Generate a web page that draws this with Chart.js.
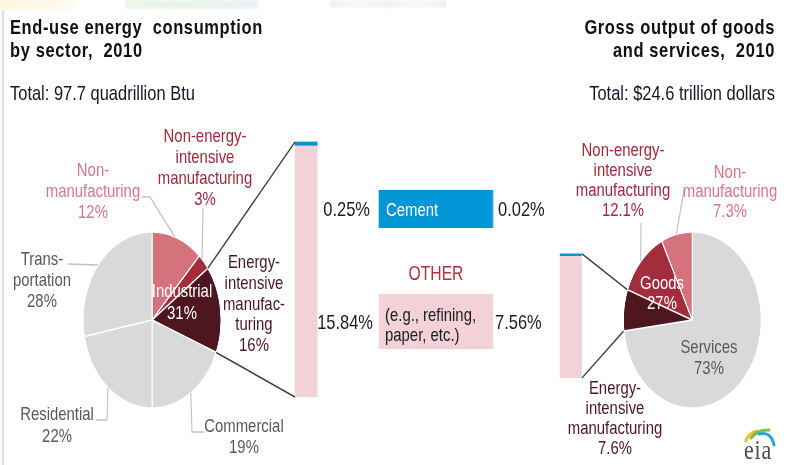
<!DOCTYPE html>
<html><head><meta charset="utf-8">
<title>End-use energy consumption and gross output by sector, 2010</title>
<script src="https://cdn.jsdelivr.net/npm/chart.js@4.4.1/dist/chart.umd.min.js"></script>
<style>
html,body{margin:0;padding:0;background:#fff;overflow:hidden;width:787px;height:465px;}
#stage{position:absolute;left:0;top:0;width:1004px;height:465px;transform:scaleX(0.784);transform-origin:0 0;font-family:"Liberation Sans",Arial,Helvetica,sans-serif;}
.abs{position:absolute;}
.lbl{position:absolute;white-space:pre;}
</style></head><body><div id="stage"></div>
<script>
// ---------------- data ----------------
const leftCategories = ['Non-manufacturing','Non-energy-intensive manufacturing','Energy-intensive manufacturing','Commercial','Residential','Transportation'];
const leftShares = [12, 3, 16, 19, 22, 28];
const rightCategories = ['Services','Energy-intensive manufacturing','Non-energy-intensive manufacturing','Non-manufacturing'];
const rightShares = [73, 7.6, 12.1, 7.3];
const barCategories = ['Other','Cement'];
const energyBarShares = [15.84, 0.25];   // energy-intensive manufacturing, share of energy use
const outputBarShares = [7.56, 0.02];    // energy-intensive manufacturing, share of gross output
const leftLabelNames = ['Non-\nmanufacturing','Non-energy-\nintensive\nmanufacturing','Energy-\nintensive\nmanufac-\nturing','Commercial','Residential','Trans-\nportation'];
const rightLabelNames = ['Services','Energy-\nintensive\nmanufacturing','Non-energy-\nintensive\nmanufacturing','Non-\nmanufacturing'];

// ---------------- styles / layout ----------------
const SX = 0.784, K = 1 / SX;           // horizontal compression of the whole figure
const X = x => x * K;                   // reference x -> stage x
const stage = document.getElementById('stage');
const C_PINK = '#d5737d', C_RED = '#a32d3c', C_DARK = '#4e161e', C_GRAY = '#d9d9d9';
const T_PINK = '#dc7684', T_RED = '#a2293b', T_DARK = '#4b1820', T_GRAY = '#595959', T_NUM = '#1b1b24';
const BAR_PINK = '#f2d1d7', BAR_BLUE = '#0096d6';
const leftColors = [C_PINK, C_RED, C_DARK, C_GRAY, C_GRAY, C_GRAY];
const rightColors = [C_GRAY, C_DARK, C_RED, C_PINK];

function addText(s) {
  const d = document.createElement('div');
  d.className = 'lbl';
  d.textContent = s.t;
  const fs = s.fs || 19, lh = s.lh || 21;
  d.style.fontSize = fs + 'px';
  d.style.lineHeight = lh + 'px';
  d.style.color = s.c || T_NUM;
  if (s.bold) d.style.fontWeight = 'bold';
  if (s.ls) d.style.letterSpacing = s.ls + 'px';
  if (s.ff) d.style.fontFamily = s.ff;
  const al = s.al || 'center';
  d.style.textAlign = al;
  d.style.top = (s.b - (lh - 1.117 * fs) / 2 - 0.905 * fs) + 'px';
  d.style.left = X(s.x) + 'px';
  if (al === 'center') d.style.transform = 'translateX(-50%)';
  else if (al === 'right') d.style.transform = 'translateX(-100%)';
  stage.appendChild(d);
  return d;
}
function addBox(x0, y0, x1, y1, bg, extra) {
  const d = document.createElement('div');
  d.className = 'abs';
  d.style.left = X(x0) + 'px'; d.style.top = y0 + 'px';
  d.style.width = X(x1 - x0) + 'px'; d.style.height = (y1 - y0) + 'px';
  d.style.background = bg;
  if (extra) Object.assign(d.style, extra);
  stage.appendChild(d);
  return d;
}

// faint remnants at the very top and left frame line
addBox(0, 0, 75, 9, 'linear-gradient(to right,#fcf3cf,#fff8e6)', { opacity: 0.75, filter: 'blur(1px)' });
addBox(125, 0, 258, 9, 'linear-gradient(to right,#e6f4e3,#dcefe0 60%,#e3eef3)', { opacity: 0.7, filter: 'blur(1px)' });
addBox(330, 0, 446, 8, 'linear-gradient(to right,#ebebeb,#f7f7f7,#ebebeb,#f8f8f8,#e9e9e9)', { opacity: 0.7, filter: 'blur(1px)' });
addBox(2.2, 10, 3.4, 465, '#a8a8a8');

// legend swatches in the middle
addBox(379, 190, 493, 228, BAR_BLUE);
addBox(379, 294, 493, 349, BAR_PINK);

Chart.defaults.font.family = '"Liberation Sans", Arial, sans-serif';

function makePie(cxRef, cy, r, labels, data, colors) {
  const size = 2 * r + 20;
  const wrap = document.createElement('div');
  wrap.className = 'abs';
  const left = X(cxRef) - size / 2, top = cy - size / 2;
  wrap.style.left = left + 'px'; wrap.style.top = top + 'px';
  const cv = document.createElement('canvas');
  cv.width = size; cv.height = size;
  wrap.appendChild(cv); stage.appendChild(wrap);
  const chart = new Chart(cv, {
    type: 'pie',
    data: { labels, datasets: [{ data, backgroundColor: colors, borderColor: '#ffffff', borderWidth: 1.5 }] },
    options: {
      responsive: false, animation: false, devicePixelRatio: 2, radius: r,
      layout: { padding: 0 },
      plugins: { legend: { display: false }, tooltip: { enabled: false } }
    }
  });
  return { chart, left, top };
}

function makeBar(x0, x1, yTop, yBase, data) {
  const pad = 5;
  const w = X(x1 - x0), h = (yBase - yTop) + pad;
  const wrap = document.createElement('div');
  wrap.className = 'abs';
  const left = X(x0), top = yTop - pad;
  wrap.style.left = left + 'px'; wrap.style.top = top + 'px';
  const cv = document.createElement('canvas');
  cv.width = w; cv.height = h;
  wrap.appendChild(cv); stage.appendChild(wrap);
  const total = data[0] + data[1];
  const chart = new Chart(cv, {
    type: 'bar',
    data: {
      labels: ['Energy-intensive manufacturing'],
      datasets: [
        { label: barCategories[0], data: [data[0]], backgroundColor: BAR_PINK, borderWidth: 0 },
        { label: barCategories[1], data: [data[1]], backgroundColor: BAR_BLUE, borderWidth: 0, minBarLength: 2.5, clip: false }
      ]
    },
    options: {
      responsive: false, animation: false, devicePixelRatio: 2,
      layout: { padding: { top: pad, left: 0, right: 0, bottom: 0 } },
      datasets: { bar: { barPercentage: 1, categoryPercentage: 1 } },
      scales: {
        x: { stacked: true, display: false },
        y: { stacked: true, display: false, min: 0, max: total }
      },
      plugins: { legend: { display: false }, tooltip: { enabled: false } }
    }
  });
  return { chart, left, top };
}

const leftPie = makePie(152, 320, 88, leftCategories, leftShares, leftColors);
const rightPie = makePie(692, 320, 88, rightCategories, rightShares, rightColors);
const leftBar = makeBar(295, 318, 142, 397, energyBarShares);
const rightBar = makeBar(560, 582, 256, 378, outputBarShares);

// ---------------- connector and leader lines ----------------
const NS = 'http://www.w3.org/2000/svg';
const svg = document.createElementNS(NS, 'svg');
svg.setAttribute('width', 1004); svg.setAttribute('height', 465);
svg.style.position = 'absolute'; svg.style.left = '0'; svg.style.top = '0';
stage.appendChild(svg);
function poly(pts, color, w) {
  const p = document.createElementNS(NS, 'polyline');
  p.setAttribute('points', pts.map(q => q[0] + ',' + q[1]).join(' '));
  p.setAttribute('fill', 'none'); p.setAttribute('stroke', color);
  p.setAttribute('stroke-width', w); p.setAttribute('stroke-linejoin', 'round');
  svg.appendChild(p);
}
function arcPoint(pie, i, frac, rf) {
  const el = pie.chart.getDatasetMeta(0).data[i];
  const a = el.startAngle + frac * (el.endAngle - el.startAngle);
  const r = el.outerRadius * rf;
  return [pie.left + el.x + r * Math.cos(a), pie.top + el.y + r * Math.sin(a)];
}
function barCorner(bar, side, which) {
  const other = bar.chart.getDatasetMeta(0).data[0];
  const cem = bar.chart.getDatasetMeta(1).data[0];
  const x = bar.left + (side === 'left' ? other.x - other.width / 2 : other.x + other.width / 2);
  const y = bar.top + (which === 'top' ? Math.min(cem.y, cem.base) : other.base);
  return [x, y];
}
// zoom connectors (energy-intensive slice -> stacked bar)
poly([arcPoint(leftPie, 2, 0, 1), barCorner(leftBar, 'left', 'top')], '#3c3c3c', 1.6);
poly([arcPoint(leftPie, 2, 1, 1), barCorner(leftBar, 'left', 'base')], '#3c3c3c', 1.6);
poly([barCorner(rightBar, 'right', 'top'), arcPoint(rightPie, 1, 1, 1)], '#3c3c3c', 1.6);
poly([barCorner(rightBar, 'right', 'base'), arcPoint(rightPie, 1, 0, 1)], '#3c3c3c', 1.6);

// label leaders (label side given in reference coordinates)
const leftLeaders = [
  { i: 0, f: 0.45, pts: [[142, 197], [150, 197]] },
  { i: 1, f: 0.3, pts: [[203, 208]] },
  { i: 5, f: 0.49, pts: [[68, 264]] },
  { i: 4, f: 0.5, pts: [[96, 420], [107, 420]] },
  { i: 3, f: 0.5, pts: [[204, 432], [192, 432]] }
];
const rightLeaders = [
  { i: 2, f: 0.5, pts: [[641, 223]] },
  { i: 3, f: 0.5, pts: [[684, 190]] }
];
leftLeaders.forEach(l => poly(l.pts.map(p => [X(p[0]), p[1]]).concat([arcPoint(leftPie, l.i, l.f, 1)]), '#c2c2c2', 1.5));
rightLeaders.forEach(l => poly(l.pts.map(p => [X(p[0]), p[1]]).concat([arcPoint(rightPie, l.i, l.f, 1)]), '#c2c2c2', 1.5));

// eia logo arcs
const g = document.createElementNS(NS, 'g');
g.setAttribute('transform', 'scale(' + K + ',1)');
svg.appendChild(g);
[['M746,441 Q748,433 757,431', '#f3c233'], ['M751,438 Q757,430 769,430', '#7cc143'], ['M759,434 Q771,431 774,445', '#2aa7e0']].forEach(a => {
  const p = document.createElementNS(NS, 'path');
  p.setAttribute('d', a[0]); p.setAttribute('fill', 'none');
  p.setAttribute('stroke', a[1]); p.setAttribute('stroke-width', 3); p.setAttribute('stroke-linecap', 'round');
  g.appendChild(p);
});

// ---------------- text ----------------
const pct = v => v + '%';
const industrial = Math.round(leftShares[0] + leftShares[1] + leftShares[2]);
const goods = Math.round(rightShares[1] + rightShares[2] + rightShares[3]);
[
  { t: 'End-use energy  consumption\nby sector,  2010', x: 10, b: 34, fs: 21, lh: 23, bold: 1, ls: 0.8, al: 'left', c: '#111111' },
  { t: 'Total: 97.7 quadrillion Btu', x: 10, b: 100, fs: 21, lh: 23, al: 'left', c: '#15152a' },
  { t: 'Gross output of goods\nand services,  2010', x: 775, b: 34, fs: 21, lh: 23, bold: 1, ls: 0.8, al: 'right', c: '#111111' },
  { t: 'Total: $24.6 trillion dollars', x: 775, b: 100, fs: 21, lh: 23, al: 'right', c: '#15152a' },
  // left pie
  { t: leftLabelNames[0] + '\n' + pct(leftShares[0]), x: 93, b: 176, lh: 21, c: T_PINK },
  { t: leftLabelNames[1] + '\n' + pct(leftShares[1]), x: 205, b: 142, lh: 21, c: T_RED },
  { t: leftLabelNames[2] + '\n' + pct(leftShares[2]), x: 254, b: 269, lh: 20.8, c: T_DARK },
  { t: 'Industrial\n' + pct(industrial), x: 182, b: 298, lh: 22, c: '#ffffff' },
  { t: leftLabelNames[5] + '\n' + pct(leftShares[5]), x: 42, b: 265, lh: 21, c: T_GRAY },
  { t: leftLabelNames[4] + '\n' + pct(leftShares[4]), x: 57, b: 421, lh: 22, c: T_GRAY },
  { t: leftLabelNames[3] + '\n' + pct(leftShares[3]), x: 244, b: 432, lh: 21, c: T_GRAY },
  // right pie
  { t: rightLabelNames[2] + '\n' + pct(rightShares[2]), x: 623, b: 157, lh: 20, c: T_RED },
  { t: rightLabelNames[3] + '\n' + pct(rightShares[3]), x: 730, b: 178, lh: 19.5, c: T_PINK },
  { t: 'Goods\n' + pct(goods), x: 662, b: 290, lh: 20, c: '#ffffff' },
  { t: rightLabelNames[0] + '\n' + pct(rightShares[0]), x: 709, b: 353, lh: 21.5, c: T_GRAY },
  { t: rightLabelNames[1] + '\n' + pct(rightShares[1]), x: 615, b: 395, lh: 20, c: T_DARK },
  // middle
  { t: energyBarShares[1].toFixed(2) + '%', x: 370, b: 216, fs: 21, al: 'right' },
  { t: barCategories[1], x: 386, b: 216, fs: 19, al: 'left', c: '#ffffff' },
  { t: outputBarShares[1].toFixed(2) + '%', x: 498, b: 216, fs: 21, al: 'left' },
  { t: 'OTHER', x: 436, b: 280, fs: 20, c: '#b3303f' },
  { t: '(e.g., refining,\npaper, etc.)', x: 385, b: 322, fs: 19, lh: 20, al: 'left' },
  { t: energyBarShares[0].toFixed(2) + '%', x: 373, b: 329, fs: 21, al: 'right' },
  { t: outputBarShares[0].toFixed(2) + '%', x: 495, b: 329, fs: 21, al: 'left' },
  // logo text
  { t: 'eia', x: 744, b: 460, fs: 28, lh: 30, al: 'left', c: '#4a4a4a', ff: '"Liberation Serif","DejaVu Serif",serif', ls: 1 }
].forEach(addText);
</script></body></html>
